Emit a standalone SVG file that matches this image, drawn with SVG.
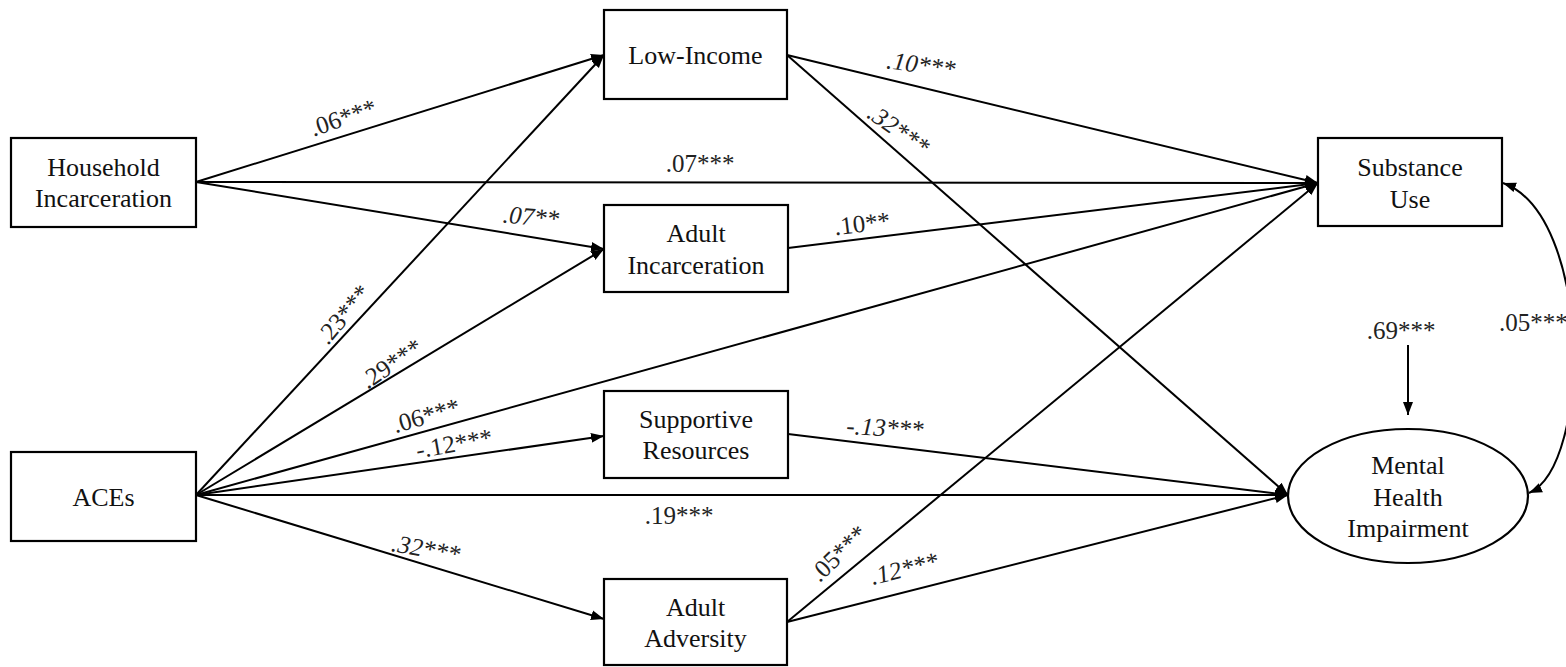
<svg xmlns="http://www.w3.org/2000/svg" width="1566" height="667" viewBox="0 0 1566 667">
<style>
.box{fill:#fff;stroke:#000;stroke-width:2.2}
.t{font-family:'Liberation Serif','DejaVu Serif',serif;font-size:26px;fill:#111;text-anchor:middle}
.lbl{font-family:'Liberation Serif','DejaVu Serif',serif;font-size:25px;fill:#222;text-anchor:middle}
.it{font-style:italic}
.c{fill:none;stroke:#000;stroke-width:2}
</style>
<defs>
<marker id="ah" markerUnits="userSpaceOnUse" markerWidth="14" markerHeight="12" refX="13" refY="6" orient="auto-start-reverse">
<path d="M0,1 L13,6 L0,11 Z" fill="#000"/>
</marker>
</defs>
<rect width="1566" height="667" fill="#fff"/>
<g id="connectors">
<line class="c" x1="196" y1="182" x2="604" y2="55" marker-end="url(#ah)"/>
<line class="c" x1="196" y1="182" x2="1318" y2="183" marker-end="url(#ah)"/>
<line class="c" x1="196" y1="182" x2="604" y2="249" marker-end="url(#ah)"/>
<line class="c" x1="787" y1="55" x2="1318" y2="183" marker-end="url(#ah)"/>
<line class="c" x1="787" y1="55" x2="1288" y2="495" marker-end="url(#ah)"/>
<line class="c" x1="788" y1="248" x2="1318" y2="183" marker-end="url(#ah)"/>
<line class="c" x1="196" y1="495" x2="604" y2="55" marker-end="url(#ah)"/>
<line class="c" x1="196" y1="495" x2="604" y2="249" marker-end="url(#ah)"/>
<line class="c" x1="196" y1="495" x2="1318" y2="183" marker-end="url(#ah)"/>
<line class="c" x1="196" y1="495" x2="604" y2="436" marker-end="url(#ah)"/>
<line class="c" x1="196" y1="495" x2="1288" y2="495" marker-end="url(#ah)"/>
<line class="c" x1="196" y1="495" x2="604" y2="619" marker-end="url(#ah)"/>
<line class="c" x1="788" y1="434" x2="1288" y2="495" marker-end="url(#ah)"/>
<line class="c" x1="787" y1="622" x2="1318" y2="183" marker-end="url(#ah)"/>
<line class="c" x1="787" y1="622" x2="1288" y2="495" marker-end="url(#ah)"/>
<line class="c" x1="1408" y1="345" x2="1408" y2="415" marker-end="url(#ah)"/>
<path class="c" d="M1503,183 C1592,215 1592,465 1529,493" marker-start="url(#ah)" marker-end="url(#ah)"/>
</g>
<g id="labels">
<text class="lbl" font-family="Liberation Serif" transform="translate(343,117) rotate(-19)" y="9">.06***</text>
<text class="lbl" font-family="Liberation Serif" x="700" y="172">.07***</text>
<text class="lbl it" font-family="Liberation Serif" transform="translate(531,216) rotate(5)" y="9">.07**</text>
<text class="lbl it" font-family="Liberation Serif" transform="translate(921,64) rotate(8)" y="9">.10***</text>
<text class="lbl it" font-family="Liberation Serif" transform="translate(899,129) rotate(35)" y="9">.32***</text>
<text class="lbl" font-family="Liberation Serif" transform="translate(862,223) rotate(-7)" y="9">.10**</text>
<text class="lbl" font-family="Liberation Serif" transform="translate(343,314) rotate(-50)" y="9">.23***</text>
<text class="lbl" font-family="Liberation Serif" transform="translate(391,363) rotate(-34)" y="9">.29***</text>
<text class="lbl" font-family="Liberation Serif" transform="translate(426,415) rotate(-16)" y="9">.06***</text>
<text class="lbl" font-family="Liberation Serif" transform="translate(454,443) rotate(-10)" y="9">-.12***</text>
<text class="lbl" font-family="Liberation Serif" x="679" y="524">.19***</text>
<text class="lbl it" font-family="Liberation Serif" transform="translate(885,427) rotate(3)" y="9">-.13***</text>
<text class="lbl it" font-family="Liberation Serif" transform="translate(426,548) rotate(10)" y="9">.32***</text>
<text class="lbl" font-family="Liberation Serif" transform="translate(838,553) rotate(-44)" y="9">.05***</text>
<text class="lbl it" font-family="Liberation Serif" transform="translate(904,568) rotate(-14)" y="9">.12***</text>
<text class="lbl" font-family="Liberation Serif" x="1401" y="339">.69***</text>
<text class="lbl" font-family="Liberation Serif" x="1499" y="331" font-size="24" style="text-anchor:start">.05***</text>
</g>
<g id="household" font-family="Liberation Serif">
<rect class="box" x="11" y="138" width="185" height="89"/>
<text class="t" x="103.5" y="176">Household</text>
<text class="t" x="103.5" y="207">Incarceration</text>
</g>
<g id="aces" font-family="Liberation Serif">
<rect class="box" x="11" y="452" width="185" height="89"/>
<text class="t" x="103.5" y="506">ACEs</text>
</g>
<g id="lowincome" font-family="Liberation Serif">
<rect class="box" x="604" y="10" width="183" height="89"/>
<text class="t" x="695.5" y="64">Low-Income</text>
</g>
<g id="adultincarceration" font-family="Liberation Serif">
<rect class="box" x="604" y="205" width="184" height="87"/>
<text class="t" x="696" y="242">Adult</text>
<text class="t" x="696" y="274">Incarceration</text>
</g>
<g id="supportive" font-family="Liberation Serif">
<rect class="box" x="604" y="391" width="184" height="87"/>
<text class="t" x="696" y="428">Supportive</text>
<text class="t" x="696" y="459">Resources</text>
</g>
<g id="adultadversity" font-family="Liberation Serif">
<rect class="box" x="604" y="579" width="183" height="86"/>
<text class="t" x="695.5" y="616">Adult</text>
<text class="t" x="695.5" y="647">Adversity</text>
</g>
<g id="substance" font-family="Liberation Serif">
<rect class="box" x="1318" y="138" width="184" height="88"/>
<text class="t" x="1410" y="176">Substance</text>
<text class="t" x="1410" y="208">Use</text>
</g>
<g id="mentalhealth" font-family="Liberation Serif">
<ellipse class="box" cx="1408" cy="496" rx="120" ry="67"/>
<text class="t" x="1408" y="474">Mental</text>
<text class="t" x="1408" y="506">Health</text>
<text class="t" x="1408" y="537">Impairment</text>
</g>
</svg>
